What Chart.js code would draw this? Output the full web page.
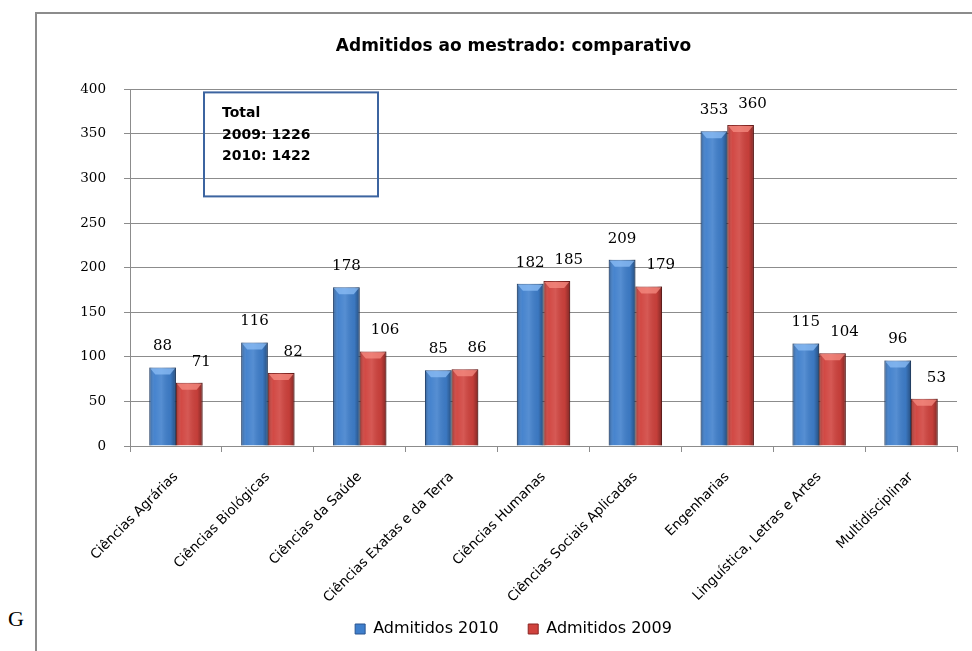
<!DOCTYPE html>
<html>
<head>
<meta charset="utf-8">
<script src="https://cdn.jsdelivr.net/npm/chart.js@4.4.0/dist/chart.umd.min.js"></script>
<style>
html, body { margin: 0; padding: 0; background: #fff; overflow: hidden; width: 972px; height: 651px; }
#frame { position: absolute; left: 35px; top: 12px; width: 980px; height: 700px; border: 2px solid #8c8c8c; }
#wrap { position: absolute; left: 36px; top: 13px; width: 964px; height: 638px; }
#g { position: absolute; left: 8px; top: 606px; font: 22px "Liberation Serif"; color: #000; }
</style>
</head>
<body>
<div id="g">G</div>
<div id="frame"></div>
<div id="wrap"><canvas id="chart"></canvas></div>
<script>
const categories = [
    "Ciências Agrárias", "Ciências Biológicas", "Ciências da Saúde",
    "Ciências Exatas e da Terra", "Ciências Humanas", "Ciências Sociais Aplicadas",
    "Engenharias", "Linguística, Letras e Artes", "Multidisciplinar"
]
const admitidos2010 = [88, 116, 178, 85, 182, 209, 353, 115, 96]
const admitidos2009 = [71, 82, 106, 86, 185, 179, 360, 104, 53]
const total2009 = 1226
const total2010 = 1422

const gridColor = "#8c8c8c"
const sans = "'DejaVu Sans', sans-serif"
const serif = "'DejaVu Serif', serif"

// shading + bevelled top, drawn over the bars Chart.js already placed
const barShade = {
    id: "barShade",
    afterDatasetsDraw(chart) {
        const ctx = chart.ctx
        ctx.save()
        chart.data.datasets.forEach((ds, di) => {
            chart.getDatasetMeta(di).data.forEach(bar => {
                const { x, y, base, width } = bar.getProps(["x", "y", "base", "width"], true)
                const l = x - width / 2, r = x + width / 2
                const g = ctx.createLinearGradient(l, 0, r, 0)
                g.addColorStop(0, "rgba(0,0,0,0.30)")
                g.addColorStop(0.2, "rgba(255,255,255,0.04)")
                g.addColorStop(0.45, "rgba(255,255,255,0.12)")
                g.addColorStop(0.8, "rgba(0,0,0,0.06)")
                g.addColorStop(1, "rgba(0,0,0,0.38)")
                ctx.fillStyle = g
                ctx.fillRect(l, y, width, base - y)
                const d = Math.min(7, (base - y) / 2)
                ctx.beginPath()
                ctx.moveTo(l + 1, y + 1)
                ctx.lineTo(r - 1, y + 1)
                ctx.lineTo(r - 6, y + d)
                ctx.lineTo(l + 6, y + d)
                ctx.closePath()
                ctx.fillStyle = ds.capColor
                ctx.fill()
            })
        })
        ctx.restore()
    }
}

const valueLabels = {
    id: "valueLabels",
    afterDatasetsDraw(chart) {
        const ctx = chart.ctx
        ctx.save()
        ctx.font = "15px " + serif
        ctx.fillStyle = "#000"
        ctx.textAlign = "center"
        ctx.textBaseline = "middle"
        chart.data.datasets.forEach((ds, di) => {
            chart.getDatasetMeta(di).data.forEach((bar, i) => {
                const shift = di === 1 ? 12 : 0
                ctx.fillText(String(ds.data[i]), bar.x + shift, bar.y - 21)
            })
        })
        ctx.restore()
    }
}

const totalBox = {
    id: "totalBox",
    afterDraw(chart) {
        const ctx = chart.ctx
        const a = chart.chartArea
        const left = a.left + 74, top = a.top + 3
        ctx.save()
        ctx.strokeStyle = "#3c64a0"
        ctx.lineWidth = 2
        ctx.strokeRect(left, top, 174, 104)
        ctx.fillStyle = "#000"
        ctx.font = "bold 14px " + sans
        ctx.textBaseline = "middle"
        ctx.fillText("Total", left + 18, top + 21)
        ctx.fillText("2009: " + total2009, left + 18, top + 43)
        ctx.fillText("2010: " + total2010, left + 18, top + 64)
        ctx.restore()
    }
}

new Chart(document.getElementById("chart"), {
    type: "bar",
    data: {
        labels: categories,
        datasets: [
            {
                label: "Admitidos 2010",
                data: admitidos2010,
                backgroundColor: "#3f7fcc",
                borderColor: "#2a5590",
                borderWidth: 1,
                capColor: "rgba(140,190,245,0.75)",
                categoryPercentage: 0.58,
                barPercentage: 1.0
            },
            {
                label: "Admitidos 2009",
                data: admitidos2009,
                backgroundColor: "#d0423d",
                borderColor: "#8a2522",
                borderWidth: 1,
                capColor: "rgba(245,140,130,0.75)",
                categoryPercentage: 0.58,
                barPercentage: 1.0
            }
        ]
    },
    options: {
        responsive: true,
        maintainAspectRatio: false,
        animation: false,
        layout: { padding: { left: 34, right: 43, top: 0, bottom: 4 } },
        plugins: {
            title: {
                display: true,
                text: "Admitidos ao mestrado: comparativo",
                color: "#000",
                font: { family: sans, size: 17, weight: "bold" },
                padding: { top: 23, bottom: 33 }
            },
            legend: {
                position: "bottom",
                labels: {
                    color: "#000",
                    font: { family: sans, size: 16 },
                    boxWidth: 10,
                    boxHeight: 10,
                    padding: 4,
                    // gap between the two entries kept wide without a tall legend box
                    generateLabels(chart) {
                        const items = Chart.defaults.plugins.legend.labels.generateLabels(chart)
                        items.forEach((it, i) => { if (i < items.length - 1) it.text += "     " })
                        return items
                    }
                }
            },
            tooltip: { enabled: false }
        },
        scales: {
            x: {
                grid: { drawOnChartArea: false, color: gridColor, tickLength: 6 },
                border: { color: gridColor },
                ticks: {
                    color: "#000",
                    font: { family: sans, size: 13.5 },
                    minRotation: 45,
                    maxRotation: 45,
                    autoSkip: false,
                    padding: 17
                },
                afterFit(scale) { scale.height = 171 }
            },
            y: {
                min: 0,
                max: 400,
                grid: { color: gridColor, tickLength: 6 },
                border: { color: gridColor },
                ticks: {
                    stepSize: 50,
                    color: "#000",
                    font: { family: serif, size: 13.5 },
                    padding: 18
                },
                afterFit(scale) { scale.width = 60 }
            }
        }
    },
    plugins: [barShade, valueLabels, totalBox]
})
</script>
</body>
</html>
